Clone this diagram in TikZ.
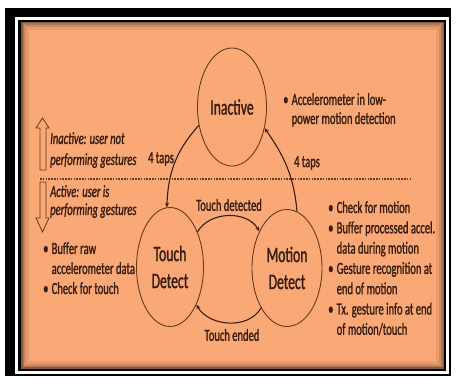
\documentclass[tikz,border=0pt]{standalone}
\usepackage{fontspec}
\setmainfont{Carlito}[FakeStretch=0.62, FakeBold=1.2]
\usetikzlibrary{shapes.geometric,arrows.meta}
\definecolor{bg}{RGB}{250,168,118}
\definecolor{ink}{RGB}{55,30,16}
\definecolor{edge}{RGB}{105,58,30}
\newcommand\bul{\makebox[8.5pt][l]{\textbullet}}
\newcommand\ind{\hspace*{8.5pt}}
\begin{document}
\begin{tikzpicture}[x=1pt,y=1pt,
  st/.style={draw=edge, line width=0.9pt, ellipse, inner sep=0pt, text=ink, align=center,
    font=\fontsize{22}{27}\selectfont},
  lbl/.style={text=ink, inner sep=0pt, anchor=base west, font=\fontsize{17}{20}\selectfont},
  ilbl/.style={lbl, font=\fontsize{17}{20}\selectfont\itshape},
  clbl/.style={text=ink, inner sep=0pt, font=\fontsize{17}{20}\selectfont},
  arr/.style={draw=ink, line width=1.1pt, -{Stealth[length=4.5pt,width=4pt]}},
  hollow/.style={draw=edge, line width=0.8pt, fill=bg}]
\useasboundingbox (0,0) rectangle (456,380);
% frame
\fill[white] (0,0) rectangle (456,380);
\fill[black] (5,4) rectangle (451,372);
\fill[white] (15,6) rectangle (449,363);
\fill[black] (18,9) rectangle (446,360);
\fill[bg] (21,11) rectangle (444,358);
\begin{scope}
  \clip (21,11) rectangle (444,358);
  \draw[black, opacity=0.07, line width=16pt] (21,11) rectangle (444,358);
  \draw[black, opacity=0.10, line width=10pt] (21,11) rectangle (444,358);
  \draw[black, opacity=0.15, line width=6pt] (21,11) rectangle (444,358);
  \draw[black, opacity=0.25, line width=3pt] (21,11) rectangle (444,358);
\end{scope}
% dotted separator
\coordinate (dl) at (40,201);
\coordinate (dr) at (410,201);
\draw[edge, line width=1.2pt, dash pattern=on 1.5pt off 1.3pt] (dl) -- (dr);
% hollow arrows
\draw[hollow] (40,210) -- (40,252) -- (36,252) -- (42.5,262) -- (49,252) -- (46,252) -- (46,210) -- cycle;
\draw[hollow] (40,198) -- (40,162) -- (36,162) -- (42.5,148) -- (49,162) -- (46,162) -- (46,198) -- cycle;
% states
\node[st, minimum width=69pt, minimum height=118pt] (ina) at (232,273) {Inactive};
\node[st, minimum width=67pt, minimum height=119pt] (td) at (170,113) {Touch\\Detect};
\node[st, minimum width=70pt, minimum height=117pt] (md) at (287,112) {Motion\\Detect};
% transitions
\draw[arr] (ina.209) to[out=228,in=88] (td.93);
\draw[arr] (md.80) to[out=95,in=-55] (ina.327);
\draw[arr] (td.52) to[out=60,in=120] (md.127);
\draw[arr] (md.237) to[out=240,in=-60] (td.305);
% transition labels
\node[clbl] (t4l) at (161,221) {4 taps};
\node[clbl] (t4r) at (307,217) {4 taps};
\node[clbl] (tdl) at (229,175) {Touch detected};
\node[clbl] (tel) at (232,45) {Touch ended};
% left side text
\node[ilbl] (i1) at (50,236) {Inactive: user not};
\node[ilbl] (i2) at (50,215) {performing gestures};
\node[ilbl] (a1) at (50,183) {Active: user is};
\node[ilbl] (a2) at (50,165) {performing gestures};
\node[lbl] (l1) at (43,126) {\bul Buffer raw};
\node[lbl] (l2) at (43,106) {\ind accelerometer data};
\node[lbl] (l3) at (43,86) {\bul Check for touch};
% right side text
\node[lbl] (u1) at (283,275) {\bul Accelerometer in low-};
\node[lbl] (u2) at (283,256) {\ind power motion detection};
\foreach \t [count=\i from 0] in {\bul Check for motion, \bul Buffer processed accel., \ind data during motion, \bul Gesture recognition at, \ind end of motion, \bul Tx. gesture info at end, \ind of motion/touch}
  \node[lbl] (r\i) at (328,{167-20.3*\i}) {\t};
\end{tikzpicture}
\end{document}
